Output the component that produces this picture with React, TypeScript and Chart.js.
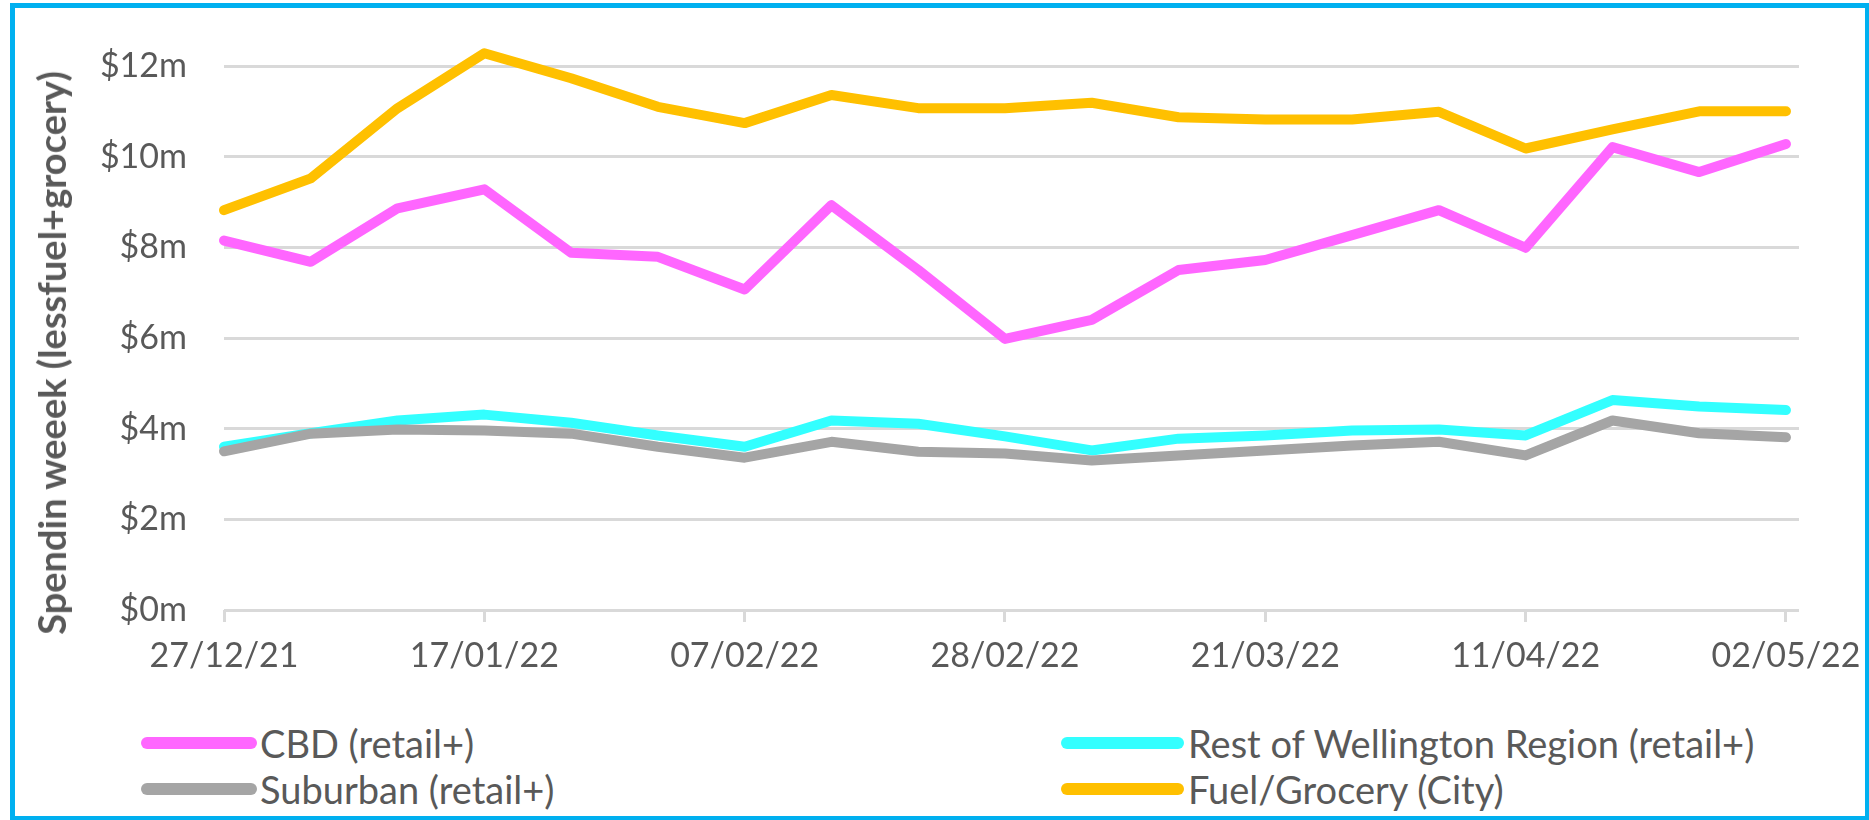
import React, { useEffect, useRef } from "react";
import { Chart, registerables } from "chart.js";

Chart.register(...registerables);

// Week-commencing dates (weekly)
const weeks = [
  "27/12/21", "03/01/22", "10/01/22", "17/01/22", "24/01/22", "31/01/22", "07/02/22",
  "14/02/22", "21/02/22", "28/02/22", "07/03/22", "14/03/22", "21/03/22", "28/03/22",
  "04/04/22", "11/04/22", "18/04/22", "25/04/22", "02/05/22",
];

// Values in $ millions
const cbd = [8.15, 7.68, 8.86, 9.28, 7.88, 7.79, 7.07, 8.93, 7.5, 5.98, 6.4, 7.5, 7.72, 8.27, 8.82, 7.99, 10.21, 9.66, 10.28];
const restOfRegion = [3.6, 3.9, 4.18, 4.31, 4.13, 3.85, 3.6, 4.18, 4.11, 3.83, 3.52, 3.78, 3.85, 3.96, 3.98, 3.85, 4.63, 4.49, 4.41];
const suburban = [3.5, 3.89, 3.98, 3.96, 3.89, 3.6, 3.36, 3.71, 3.49, 3.45, 3.3, 3.41, 3.52, 3.63, 3.71, 3.41, 4.18, 3.9, 3.81];
const fuelGrocery = [8.82, 9.52, 11.07, 12.28, 11.73, 11.1, 10.74, 11.36, 11.07, 11.07, 11.19, 10.87, 10.82, 10.82, 10.99, 10.18, 10.6, 11.0, 11.0];

const seriesNames = ["CBD (retail+)", "Rest of Wellington Region (retail+)", "Suburban (retail+)", "Fuel/Grocery (City)"];
const seriesColors = ["#FF66FF", "#33FFFF", "#A5A5A5", "#FFC000"];
const yTickValues = [0, 2, 4, 6, 8, 10, 12];
const xLabelEvery = 3;
const yTitle = "Spendin weeek (lessfuel+grocery)";

const FONT = "Lato, 'Open Sans', sans-serif";
const TEXT = "#595959";

export default function App() {
  const ref = useRef<HTMLCanvasElement | null>(null);

  useEffect(() => {
    const all = [cbd, restOfRegion, suburban, fuelGrocery];
    const xTicks = weeks.map((_, i) => i).filter((i) => i % xLabelEvery === 0);
    const chart = new Chart(ref.current as HTMLCanvasElement, {
      type: "line",
      data: {
        datasets: all.map((vals, k) => ({
          label: seriesNames[k],
          data: vals.map((v, i) => ({ x: i, y: v })),
          borderColor: seriesColors[k],
          backgroundColor: seriesColors[k],
          borderWidth: 10,
          borderCapStyle: "round" as const,
          borderJoinStyle: "round" as const,
          pointRadius: 0,
          tension: 0,
          clip: false as any,
          order: 4 - k,
        })),
      },
      options: {
        animation: false,
        responsive: false,
        maintainAspectRatio: false,
        layout: { padding: { left: 20, right: 70, top: 66, bottom: 30 } },
        plugins: { legend: { display: false }, tooltip: { enabled: false } },
        scales: {
          x: {
            type: "linear",
            min: 0,
            max: weeks.length - 1 + 0.15,
            afterBuildTicks: (s: any) => {
              s.ticks = xTicks.map((v) => ({ value: v }));
            },
            afterFit: (s: any) => {
              s.height = 80;
              s.paddingLeft = 0;
              s.paddingRight = 0;
            },
            ticks: {
              autoSkip: false,
              maxRotation: 0,
              minRotation: 0,
              padding: 14,
              color: TEXT,
              font: { family: FONT, size: 34 },
              callback: (v: any) => weeks[v as number] ?? "",
            },
            grid: {
              display: true,
              drawOnChartArea: false,
              drawTicks: true,
              tickLength: 12,
              color: "#D9D9D9",
              lineWidth: 3,
            },
            border: { display: false },
          },
          y: {
            min: 0,
            max: 12,
            afterBuildTicks: (s: any) => {
              s.ticks = yTickValues.map((v) => ({ value: v }));
            },
            afterFit: (s: any) => {
              s.width = 204;
            },
            ticks: {
              padding: 37,
              color: TEXT,
              font: { family: FONT, size: 34 },
              callback: (v: any) => `$${v}m`,
            },
            grid: { color: "#D9D9D9", lineWidth: 3, drawTicks: false },
            border: { display: false },
            title: { display: false },
          },
        },
      },
    });
    return () => chart.destroy();
  }, []);

  const legendRows = [
    { y: 743, items: [0, 1] },
    { y: 789, items: [2, 3] },
  ];
  const colX = [
    { line: 141, lineW: 116, text: 260 },
    { line: 1061, lineW: 123, text: 1188 },
  ];

  return (
    <div style={{ position: "absolute", left: 0, top: 0, width: 1869, height: 820, background: "#fff", overflow: "hidden" }}>
      <div
        style={{
          position: "absolute",
          left: 10,
          top: 3,
          width: 1860,
          height: 818,
          boxSizing: "border-box",
          border: "5px solid #00B0F0",
        }}
      />
      <canvas ref={ref} width={1869} height={720} style={{ position: "absolute", left: 0, top: 0, width: 1869, height: 720 }} />
      <div
        style={{
          position: "absolute",
          left: 51,
          top: 353,
          transform: "translate(-50%, -50%) rotate(-90deg)",
          fontFamily: FONT,
          fontWeight: "bold",
          fontSize: 38,
          lineHeight: "42px",
          color: TEXT,
          whiteSpace: "nowrap",
        }}
      >
        {yTitle}
      </div>
      {legendRows.map((row) =>
        row.items.map((k, c) => (
          <React.Fragment key={k}>
            <div
              style={{
                position: "absolute",
                left: colX[c].line,
                top: row.y - 6,
                width: colX[c].lineW,
                height: 12,
                borderRadius: 6,
                background: seriesColors[k],
              }}
            />
            <div
              style={{
                position: "absolute",
                left: colX[c].text,
                top: row.y - 22,
                height: 44,
                lineHeight: "44px",
                fontFamily: FONT,
                fontSize: 38,
                color: TEXT,
                whiteSpace: "nowrap",
              }}
            >
              {seriesNames[k]}
            </div>
          </React.Fragment>
        ))
      )}
    </div>
  );
}
